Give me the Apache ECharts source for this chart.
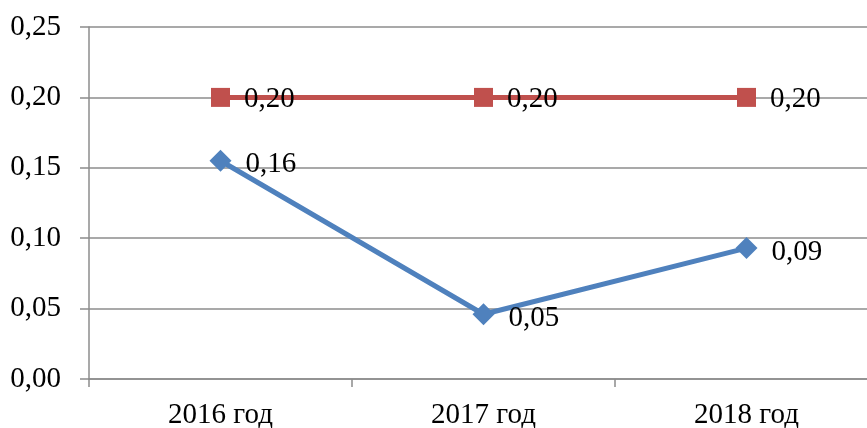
<!DOCTYPE html>
<html>
<head>
<meta charset="utf-8">
<style>
  html, body { margin: 0; padding: 0; background: #ffffff; }
  #chart { width: 867px; height: 428px; }
</style>
<script src="https://cdn.jsdelivr.net/npm/echarts@6/dist/echarts.min.js"></script>
</head>
<body>
<div id="chart"></div>
<script>
// Categories and series values
var categories = ['2016 год', '2017 год', '2018 год'];
var seriesActual = [0.155, 0.046, 0.093];
var seriesNorm = [0.20, 0.20, 0.20];
var yTicks = [0, 0.05, 0.10, 0.15, 0.20, 0.25];

var fontFamily = '"Liberation Serif", "Times New Roman", serif';
var fontSize = 29;

function fmt(v) {
  return (Math.round(v * 100 + 1e-9) / 100).toFixed(2).replace('.', ',');
}

var chart = echarts.init(document.getElementById('chart'), null, { renderer: 'canvas' });

chart.setOption({
  animation: false,
  backgroundColor: '#ffffff',
  // the plot area runs slightly past the right edge of the canvas
  grid: { left: 89, width: 789, top: 27, bottom: 49, containLabel: false, outerBoundsMode: 'none' },
  xAxis: {
    type: 'category',
    data: categories,
    boundaryGap: true,
    axisLine: { show: true, lineStyle: { color: '#8c8c8c', width: 1.5 } },
    axisTick: { show: true, alignWithLabel: false, length: 8, lineStyle: { color: '#8c8c8c', width: 1.5 } },
    axisLabel: { color: '#000', fontFamily: fontFamily, fontSize: fontSize, margin: 22 },
    splitLine: { show: false }
  },
  yAxis: {
    type: 'value',
    min: yTicks[0],
    max: yTicks[yTicks.length - 1],
    interval: 0.05,
    axisLine: { show: true, lineStyle: { color: '#8c8c8c', width: 1.5 } },
    axisTick: { show: true, inside: false, length: 9, lineStyle: { color: '#8c8c8c', width: 1.5 } },
    axisLabel: {
      color: '#000', fontFamily: fontFamily, fontSize: fontSize, margin: 28,
      formatter: function (v) { return fmt(v); }
    },
    splitLine: { show: true, lineStyle: { color: '#8c8c8c', width: 1.5 } }
  },
  series: [
    {
      name: 'Норматив',
      type: 'line',
      data: seriesNorm,
      symbol: 'rect',
      symbolSize: 19,
      lineStyle: { color: '#C0504D', width: 5 },
      itemStyle: { color: '#C0504D' },
      label: {
        show: true, position: 'right', distance: 14, offset: [0, 2],
        color: '#000', fontFamily: fontFamily, fontSize: fontSize,
        formatter: function (p) { return fmt(p.value); }
      },
      z: 2
    },
    {
      name: 'Факт',
      type: 'line',
      data: seriesActual,
      symbol: 'diamond',
      symbolSize: 22,
      lineStyle: { color: '#4F81BD', width: 5 },
      itemStyle: { color: '#4F81BD' },
      label: {
        show: true, position: 'right', distance: 14, offset: [0, 4],
        color: '#000', fontFamily: fontFamily, fontSize: fontSize,
        formatter: function (p) { return fmt(p.value); }
      },
      z: 3
    }
  ]
});
</script>
</body>
</html>
